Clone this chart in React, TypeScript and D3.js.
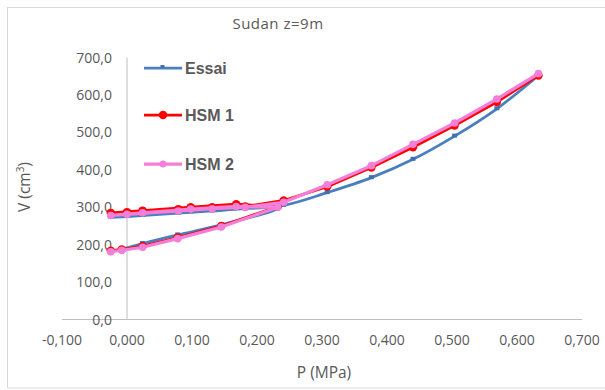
import React, { useEffect, useRef } from "react";
import * as d3 from "d3";

// P (MPa), in test order: first loading, unloading, reloading, then on to the end
const essaiP = [-0.025, -0.008, 0.024, 0.078, 0.145, 0.232, 0.17, 0.098, 0.024, -0.025, 0.0, 0.079, 0.131, 0.182, 0.241, 0.308, 0.376, 0.44, 0.504, 0.569, 0.633];
const essaiV = [182, 188, 203, 226, 253, 297, 298, 288, 279, 273, 275, 284, 290, 296, 305, 339, 379, 428, 490, 563, 652];

const hsm1P = [-0.025, -0.008, 0.024, 0.078, 0.145, 0.232, 0.168, 0.098, 0.024, -0.025, 0.0, 0.079, 0.131, 0.182, 0.241, 0.308, 0.376, 0.44, 0.504, 0.569, 0.633];
const hsm1V = [184, 187, 196, 219, 250, 302, 308, 300, 291, 285, 287, 295, 300, 302, 318, 355, 406, 460, 518, 581, 652];

const hsm2P = [-0.025, -0.008, 0.024, 0.078, 0.145, 0.232, 0.168, 0.098, 0.024, -0.025, 0.0, 0.079, 0.131, 0.182, 0.241, 0.308, 0.376, 0.44, 0.504, 0.569, 0.633];
const hsm2V = [181, 185, 193, 216, 247, 300, 302, 295, 285, 278, 281, 290, 296, 300, 313, 360, 411, 468, 525, 589, 657];

const xTicks = [-0.1, 0, 0.1, 0.2, 0.3, 0.4, 0.5, 0.6, 0.7];
const yTicks = [0, 100, 200, 300, 400, 500, 600, 700];

const fmtX = (v: number) => d3.format(".3f")(v).replace(".", ",").replace("−", "-");
const fmtY = (v: number) => d3.format(".1f")(v).replace(".", ",");

export default function App() {
    const svgRef = useRef<SVGSVGElement>(null);

    useEffect(() => {
        if (!svgRef.current) return;
        const svg = d3.select(svgRef.current);
        svg.selectAll("*").remove();

        const font = "'Open Sans', sans-serif";
        const grey = "#595959";

        const x = d3.scaleLinear().domain([-0.1, 0.7]).range([62, 582]);
        const y = d3.scaleLinear().domain([0, 700]).range([319.5, 57.5]);

        // chart border
        svg.append("rect")
            .attr("x", 7.5).attr("y", 7.5)
            .attr("width", 610).attr("height", 380.5)
            .attr("fill", "#fff")
            .attr("stroke", "#d9d9d9");

        // title
        svg.append("text")
            .attr("x", 278).attr("y", 29)
            .attr("text-anchor", "middle")
            .attr("font-family", font).attr("font-size", 15)
            .attr("letter-spacing", 0.5)
            .attr("fill", grey)
            .text("Sudan  z=9m");

        // axes lines
        svg.append("line")
            .attr("x1", x(-0.1)).attr("x2", x(0.7))
            .attr("y1", y(0)).attr("y2", y(0))
            .attr("stroke", "#bfbfbf");
        svg.append("line")
            .attr("x1", x(0)).attr("x2", x(0))
            .attr("y1", y(0)).attr("y2", y(700))
            .attr("stroke", "#bfbfbf");

        // tick labels
        svg.append("g").selectAll("text").data(xTicks).join("text")
            .attr("x", (d) => x(d)).attr("y", 345)
            .attr("text-anchor", "middle")
            .attr("font-family", font).attr("font-size", 14)
            .attr("fill", grey)
            .text((d) => fmtX(d));

        svg.append("g").selectAll("text").data(yTicks).join("text")
            .attr("x", 112).attr("y", (d) => y(d) + 5)
            .attr("text-anchor", "end")
            .attr("font-family", font).attr("font-size", 14)
            .attr("fill", grey)
            .text((d) => fmtY(d));

        // axis titles
        svg.append("text")
            .attr("x", 324).attr("y", 378)
            .attr("text-anchor", "middle")
            .attr("font-family", font).attr("font-size", 15.5)
            .attr("fill", grey)
            .text("P (MPa)");

        const yt = svg.append("text")
            .attr("transform", "translate(30,187) rotate(-90)")
            .attr("text-anchor", "middle")
            .attr("font-family", font).attr("font-size", 15.5)
            .attr("fill", grey);
        yt.append("tspan").text("V (cm");
        yt.append("tspan").attr("font-size", 10).attr("dy", -6).text("3");
        yt.append("tspan").attr("dy", 6).text(")");

        const series = [
            { name: "Essai", P: essaiP, V: essaiV, color: "#4a7ebf", marker: "dash", curve: d3.curveCatmullRom, ly: 68, w: 2.75 },
            { name: "HSM 1", P: hsm1P, V: hsm1V, color: "#ff0000", marker: "circle", curve: d3.curveLinear, ly: 115, w: 2.75 },
            { name: "HSM 2", P: hsm2P, V: hsm2V, color: "#f47fd8", marker: "circle-small", curve: d3.curveLinear, ly: 164, w: 3.25 },
        ];

        series.forEach((s) => {
            const pts = s.P.map((p, i) => [p, s.V[i]] as [number, number]);
            const line = d3.line<[number, number]>()
                .x((d) => x(d[0]))
                .y((d) => y(d[1]))
                .curve(s.curve);
            const g = svg.append("g");
            g.append("path")
                .attr("d", line(pts) as string)
                .attr("fill", "none")
                .attr("stroke", s.color)
                .attr("stroke-width", s.w)
                .attr("stroke-linejoin", "round");

            if (s.marker === "dash") {
                g.selectAll("rect").data(pts).join("rect")
                    .attr("x", (d) => x(d[0]) - 2.5).attr("y", (d) => y(d[1]) - 2.5)
                    .attr("width", 5).attr("height", 4)
                    .attr("fill", "#3f70b0");
            } else {
                g.selectAll("circle").data(pts).join("circle")
                    .attr("cx", (d) => x(d[0])).attr("cy", (d) => y(d[1]))
                    .attr("r", s.marker === "circle" ? 4.2 : 3.8)
                    .attr("fill", s.color);
            }

            // legend entry
            svg.append("line")
                .attr("x1", 144).attr("x2", 182)
                .attr("y1", s.ly).attr("y2", s.ly)
                .attr("stroke", s.color).attr("stroke-width", s.w);
            if (s.marker === "dash") {
                svg.append("rect").attr("x", 160.5).attr("y", s.ly - 3).attr("width", 4).attr("height", 3).attr("fill", "#3f70b0");
            } else {
                svg.append("circle").attr("cx", 163).attr("cy", s.ly)
                    .attr("r", s.marker === "circle" ? 4.2 : 3.5).attr("fill", s.color);
            }
            svg.append("text")
                .attr("x", 185).attr("y", s.ly + 6)
                .attr("font-family", "'Liberation Sans', Arial, sans-serif").attr("font-size", 16)
                .attr("font-weight", "bold")
                .attr("fill", grey)
                .text(s.name);
        });
    }, []);

    return (
        <svg
            ref={svgRef}
            width={605}
            height={390}
            style={{ position: "absolute", left: 0, top: 0 }}
        />
    );
}
